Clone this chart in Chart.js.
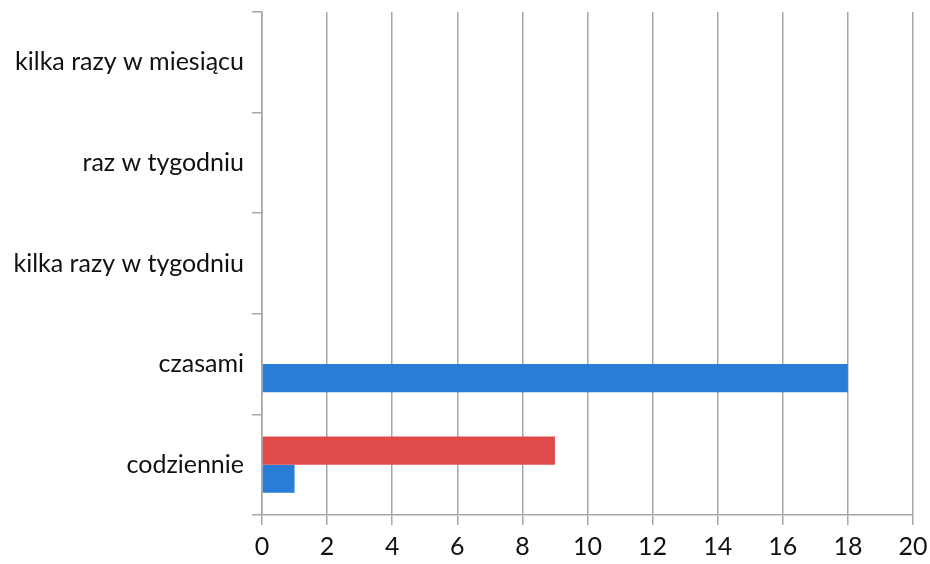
<!DOCTYPE html>
<html>
<head>
<meta charset="utf-8">
<script src="https://cdn.jsdelivr.net/npm/chart.js@4/dist/chart.umd.min.js"></script>
<style>
html,body{margin:0;padding:0;background:#fff;}
#wrap{width:930px;height:564px;}
</style>
</head>
<body>
<div id="wrap"><canvas id="c" width="930" height="564"></canvas></div>
<script>
const categories = ["kilka razy w miesiącu", "raz w tygodniu", "kilka razy w tygodniu", "czasami", "codziennie"];
const redValues = [0, 0, 0, 0, 9];
const blueValues = [0, 0, 0, 18, 1];
const xTicks = [0, 2, 4, 6, 8, 10, 12, 14, 16, 18, 20];

const FONT = "Lato, 'Open Sans', sans-serif";
new Chart(document.getElementById('c'), {
  type: 'bar',
  data: {
    labels: categories,
    datasets: [
      { label: 'A', data: redValues, backgroundColor: '#e04a4a', borderWidth: 0 },
      { label: 'B', data: blueValues, backgroundColor: '#2a7dd6', borderWidth: 0 }
    ]
  },
  options: {
    indexAxis: 'y',
    responsive: false,
    animation: false,
    devicePixelRatio: 1,
    categoryPercentage: 0.56,
    barPercentage: 1.0,
    layout: { padding: { left: 0, top: 12, right: 17, bottom: 0 } },
    plugins: { legend: { display: false }, tooltip: { enabled: false } },
    scales: {
      x: {
        min: 0, max: 20,
        afterBuildTicks: s => { s.ticks = xTicks.map(v => ({ value: v })); },
        afterFit: s => { s.height = 49; s.paddingLeft = 0; s.paddingRight = 0; },
        grid: { color: '#a6a6a6', lineWidth: 1.5, tickLength: 10, drawTicks: true },
        border: { color: '#a6a6a6', width: 1.5 },
        ticks: { color: '#111111', font: { family: FONT, size: 25 }, padding: 7, maxRotation: 0 }
      },
      y: {
        afterFit: s => { s.width = 262; s.paddingTop = 0; s.paddingBottom = 0; },
        grid: { drawOnChartArea: false, color: '#a6a6a6', lineWidth: 1.5, tickLength: 10, offset: true },
        border: { color: '#a6a6a6', width: 1.5 },
        ticks: { color: '#111111', font: { family: FONT, size: 25 }, padding: 8 }
      }
    }
  }
});
</script>
</body>
</html>
